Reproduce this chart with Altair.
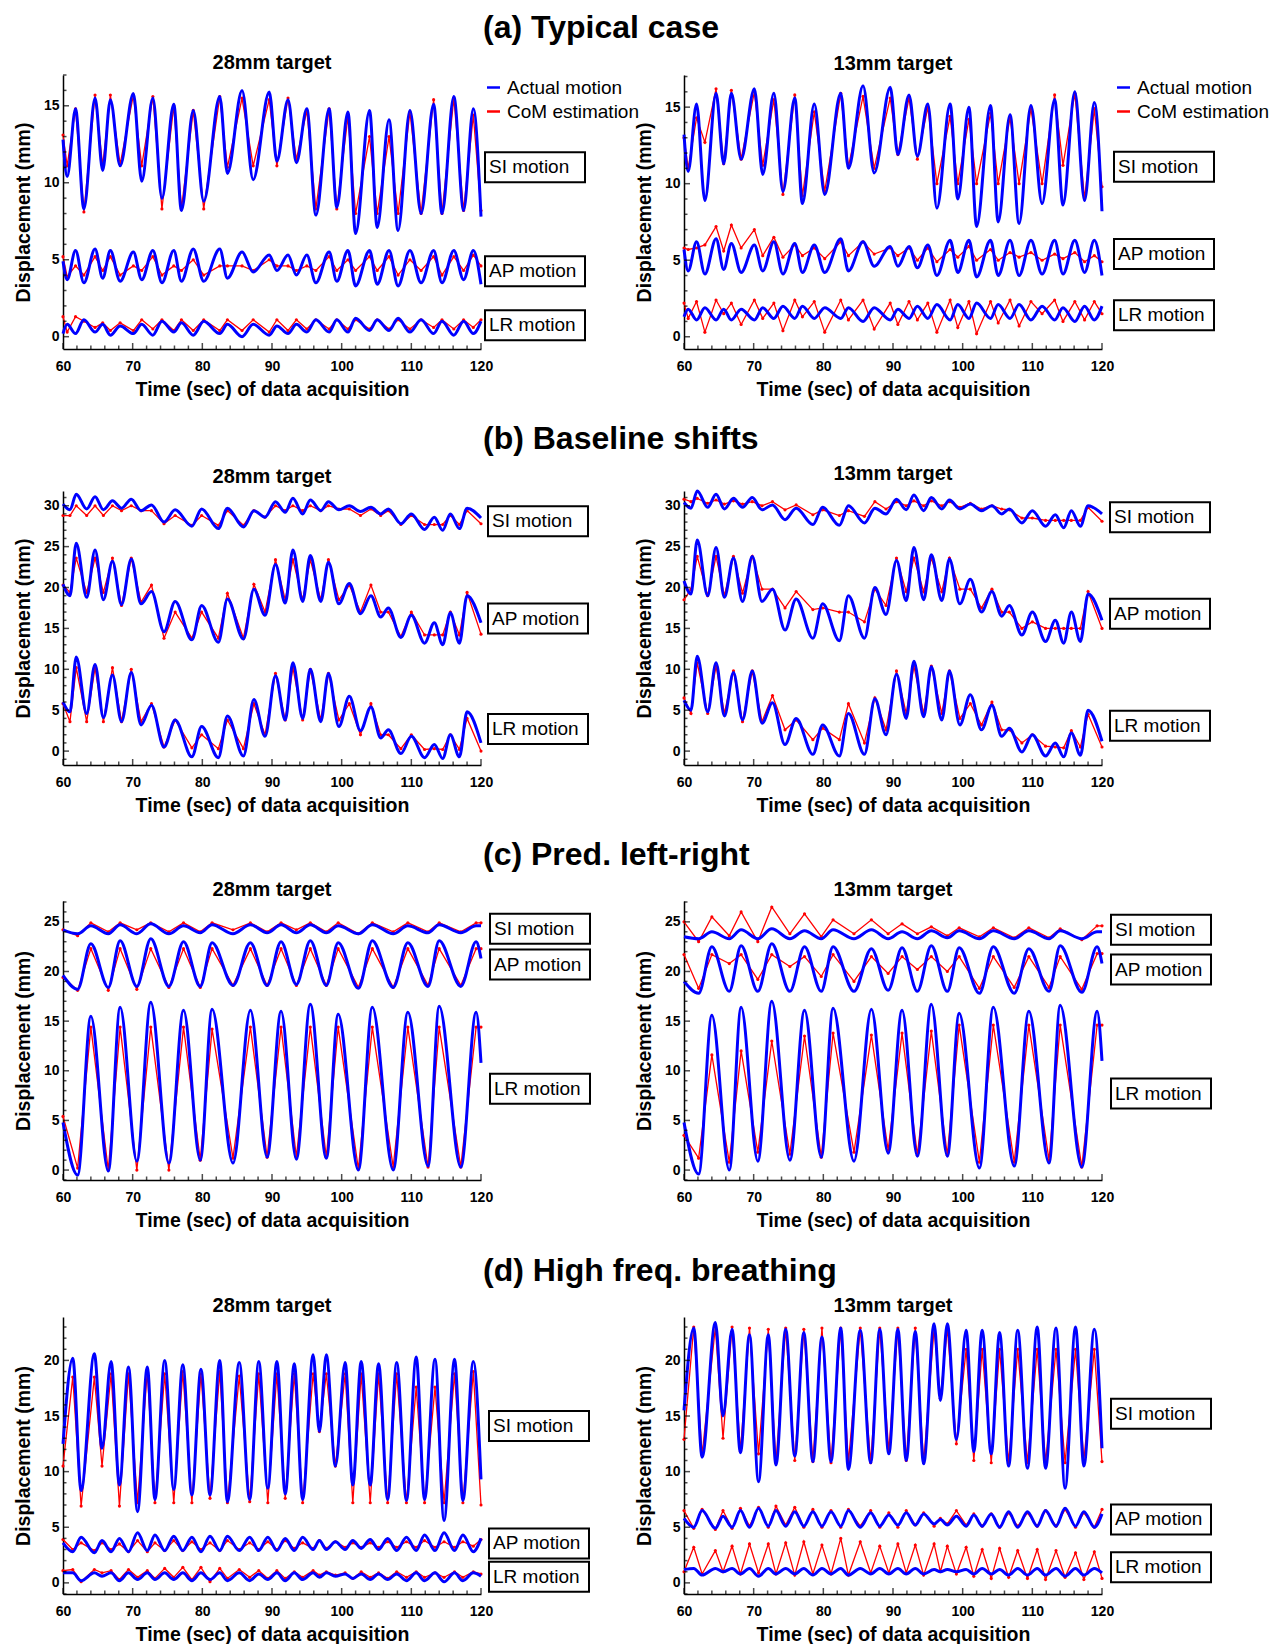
import math
import altair as alt
import pandas as pd

FONT = "Liberation Sans"
BLUE = "#0000ff"
RED = "#ff0000"

# ---------------- row (a) Typical case ----------------
T_a = [60, 60.6, 61.8, 63.0, 64.6, 65.7, 66.8, 68.2, 70.1, 71.3, 72.9, 74.2, 75.9, 77.0, 78.7, 80.2, 82.5, 83.6, 85.7, 87.3,
       89.6, 90.7, 92.3, 93.5, 95.0, 96.3, 98.2, 99.3, 100.9, 102.0, 104.0, 105.1, 106.8, 108.1, 109.8, 111.4, 113.2, 114.4,
       116.1, 117.5, 118.9, 120]
a28_si = [12.8, 10.4, 14.8, 8.3, 15.5, 10.8, 15.4, 11.1, 15.8, 10.1, 15.5, 9.0, 15.1, 8.2, 14.7, 8.8, 15.6, 10.6, 16.0, 10.2,
          15.9, 11.4, 15.4, 11.3, 14.8, 7.9, 14.8, 8.4, 14.6, 6.7, 14.7, 7.1, 14.1, 6.9, 14.7, 8.0, 15.1, 8.0, 15.6, 8.2, 14.8, 7.8]
a28_si_est = [13.1, 11.1, 14.8, 8.1, 15.7, 11.1, 15.7, 11.2, 15.7, 11.1, 15.6, 8.3, 15.0, 8.3, 14.7, 8.3, 15.6, 11.0, 15.5, 11.1,
              15.4, 11.1, 15.5, 11.5, 14.7, 8.3, 14.8, 8.3, 14.3, 8.0, 13.0, 8.0, 13.0, 8.0, 14.6, 8.0, 15.4, 8.0, 15.5, 8.2, 14.4, 8.2]
a28_ap = [4.9, 3.7, 5.6, 3.5, 5.7, 3.8, 5.6, 3.6, 5.5, 3.7, 5.6, 3.5, 5.6, 3.6, 5.7, 3.6, 5.7, 3.8, 5.5, 4.2,
          5.3, 4.3, 5.3, 4.0, 5.3, 3.5, 5.5, 3.6, 5.6, 3.3, 5.6, 3.4, 5.6, 3.3, 5.6, 3.5, 5.6, 3.5, 5.6, 3.7, 5.6, 3.4]
a28_ap_est = [5.2, 3.9, 4.6, 4.0, 5.2, 4.3, 5.2, 4.0, 4.6, 4.3, 5.2, 4.0, 4.6, 4.3, 5.0, 4.0, 4.6, 4.6, 4.6, 4.3,
              5.0, 4.6, 4.6, 4.3, 4.6, 4.3, 5.2, 4.3, 5.0, 4.3, 5.2, 4.3, 5.2, 4.0, 5.0, 4.3, 5.2, 4.0, 5.2, 4.3, 5.3, 4.6]
a28_lr = [0.2, 0.8, 0.2, 1.1, 0.3, 0.8, 0.1, 0.7, 0.2, 0.8, 0.1, 1.0, 0.3, 0.9, 0.1, 1.0, 0.2, 0.8, 0.0, 0.8,
          0.1, 0.7, 0.2, 0.8, 0.3, 1.1, 0.3, 1.1, 0.3, 1.2, 0.4, 1.1, 0.4, 1.2, 0.3, 1.1, 0.2, 1.0, 0.1, 1.0, 0.2, 1.0]
a28_lr_est = [1.3, 0.3, 1.3, 1.0, 0.6, 0.9, 0.4, 0.9, 0.4, 1.1, 0.5, 1.1, 0.4, 1.1, 0.4, 1.1, 0.4, 1.1, 0.4, 1.1,
              0.3, 1.1, 0.4, 1.1, 0.5, 1.1, 0.5, 1.1, 0.5, 1.1, 0.5, 1.1, 0.5, 1.1, 0.5, 1.1, 0.6, 1.1, 0.5, 1.1, 0.6, 1.1]
a13_si = [13.2, 10.8, 15.2, 8.9, 15.9, 11.3, 15.9, 11.6, 16.2, 10.6, 15.9, 9.5, 15.6, 8.7, 15.2, 9.3, 15.9, 11.0, 16.4, 10.7,
          16.3, 11.9, 15.8, 11.8, 15.2, 8.4, 15.2, 9.0, 15.0, 7.2, 15.1, 7.5, 14.5, 7.4, 15.1, 8.7, 15.5, 8.6, 16.0, 8.9, 15.3, 8.2]
a13_si_est = [13.0, 11.0, 14.3, 12.7, 16.2, 11.3, 16.1, 11.6, 16.0, 11.2, 15.5, 9.3, 15.8, 9.2, 14.7, 9.5, 15.9, 11.1, 15.7, 11.0,
              15.6, 11.9, 15.6, 11.6, 15.0, 10.0, 14.4, 10.0, 14.2, 10.0, 14.6, 10.0, 14.3, 10.0, 14.9, 10.0, 15.8, 11.2, 15.9, 9.0, 14.9, 9.8]
a13_ap = [5.7, 4.3, 6.2, 4.1, 6.4, 4.4, 6.1, 4.2, 6.0, 4.3, 6.2, 4.1, 6.1, 4.2, 6.0, 4.2, 6.4, 4.3, 6.2, 4.6,
          5.9, 4.6, 5.9, 4.5, 6.0, 4.0, 6.3, 4.2, 6.3, 3.9, 6.3, 4.0, 6.3, 4.0, 6.3, 4.1, 6.3, 4.1, 6.3, 4.2, 6.3, 4.0]
a13_ap_est = [5.8, 5.7, 5.8, 6.0, 7.2, 5.6, 7.3, 5.8, 7.0, 5.3, 6.5, 5.2, 6.0, 5.3, 5.8, 5.1, 6.2, 5.3, 6.2, 5.4,
              5.8, 5.3, 5.8, 5.0, 5.8, 4.9, 5.7, 5.2, 5.9, 5.0, 5.7, 5.0, 5.5, 5.2, 5.5, 5.0, 5.4, 5.1, 5.5, 4.9, 5.3, 4.9]
a13_lr = [1.3, 1.8, 1.1, 1.9, 1.1, 1.8, 1.1, 1.8, 1.1, 1.9, 1.2, 2.0, 1.2, 2.0, 1.2, 1.9, 1.2, 1.9, 1.0, 1.9,
          1.1, 1.8, 1.2, 2.0, 1.2, 2.1, 1.1, 2.1, 1.2, 2.2, 1.2, 2.1, 1.2, 2.1, 1.1, 2.0, 1.1, 1.9, 1.0, 2.0, 1.1, 2.0]
a13_lr_est = [2.2, 1.2, 2.3, 0.3, 2.4, 1.5, 2.2, 0.8, 2.4, 1.2, 2.2, 0.4, 2.4, 1.3, 2.3, 0.3, 2.4, 1.1, 2.4, 0.5,
              2.2, 0.8, 2.3, 1.1, 2.2, 0.3, 2.4, 0.6, 2.3, 0.2, 2.3, 0.9, 2.4, 0.7, 2.3, 1.5, 2.4, 1.0, 2.3, 1.1, 2.3, 1.5]

# ---------------- row (b) Baseline shifts ----------------
T_b = [60, 61.0, 61.9, 63.4, 64.6, 65.8, 67.1, 68.4, 69.8, 71.2, 72.7, 74.5, 76.1, 78.5, 79.9, 82.3, 83.6, 85.9, 87.4, 89.0,
       90.5, 91.9, 93.0, 94.4, 95.5, 97.0, 98.1, 99.6, 101.1, 102.7, 104.2, 105.6, 106.7, 108.5, 110.0, 111.9, 113.3, 114.5,
       115.6, 116.9, 118.0, 120]
b28_si = [30.2, 29.5, 31.4, 29.6, 31.1, 29.5, 30.6, 29.7, 30.8, 29.4, 30.1, 28.0, 29.5, 27.5, 29.6, 27.2, 29.7, 27.4, 29.4, 28.6,
          30.5, 29.2, 30.9, 29.0, 30.7, 29.4, 30.5, 29.5, 30.0, 29.3, 29.8, 29.0, 29.6, 27.8, 29.0, 27.1, 28.6, 27.0, 29.0, 27.2, 29.7, 28.5]
b28_si_est = [28.8, 28.8, 30.0, 28.8, 30.0, 28.8, 30.0, 29.4, 30.0, 29.4, 29.4, 27.8, 28.8, 27.6, 28.8, 27.6, 29.4, 27.6, 29.4, 28.6,
              30.0, 29.4, 30.0, 29.4, 30.0, 29.4, 30.0, 29.6, 29.6, 28.8, 29.6, 28.8, 29.4, 27.7, 28.8, 27.7, 27.7, 27.7, 28.8, 27.7, 29.4, 27.8]
b28_ap = [20.4, 19.0, 25.4, 18.8, 24.6, 18.5, 23.2, 17.9, 23.5, 18.0, 19.5, 14.6, 18.3, 13.6, 17.8, 13.3, 18.6, 13.7, 19.8, 16.6,
          22.8, 18.1, 24.6, 18.3, 23.9, 18.3, 23.1, 18.0, 20.5, 16.8, 19.0, 16.4, 17.5, 13.9, 16.6, 13.2, 15.7, 13.0, 16.9, 13.2, 19.0, 15.7]
b28_ap_est = [20.3, 19.4, 23.6, 19.4, 23.6, 19.4, 23.6, 17.8, 23.6, 18.2, 20.3, 13.8, 17.0, 13.8, 17.0, 13.8, 19.3, 13.8, 20.4, 17.0,
              23.4, 18.5, 23.4, 18.5, 23.4, 18.5, 23.4, 18.5, 20.3, 17.0, 20.3, 17.0, 17.0, 14.0, 17.0, 14.2, 14.2, 14.2, 17.0, 14.2, 19.4, 14.3]
b28_lr = [6.0, 4.8, 11.5, 4.6, 10.6, 4.1, 9.3, 3.6, 9.6, 3.2, 5.6, 0.5, 3.8, -0.7, 3.0, -0.8, 4.3, -0.6, 6.3, 1.8,
          9.2, 3.8, 10.8, 4.0, 10.0, 3.6, 9.5, 3.0, 6.7, 2.5, 5.4, 1.6, 2.6, -0.3, 1.8, -0.8, 0.8, -0.9, 2.0, -0.7, 4.8, 1.0]
b28_lr_est = [5.8, 3.6, 10.2, 3.6, 10.2, 3.6, 10.2, 3.6, 10.0, 3.6, 5.8, 0.5, 3.8, 0.4, 2.0, 0.3, 3.8, 0.3, 5.8, 2.0,
              9.5, 3.8, 10.2, 3.8, 10.0, 3.8, 9.5, 3.8, 5.8, 2.0, 5.8, 2.0, 2.0, 0.3, 2.0, 0.2, 0.3, 0.2, 2.0, 0.2, 4.0, 0.0]
b13_si = [30.4, 29.7, 31.8, 29.8, 31.4, 29.6, 30.9, 29.8, 31.0, 29.5, 30.1, 28.3, 29.7, 27.7, 29.8, 27.6, 30.0, 27.9, 29.7, 29.0,
          30.8, 29.5, 31.3, 29.4, 31.0, 29.6, 30.7, 29.6, 30.2, 29.4, 30.0, 29.0, 29.6, 27.9, 29.4, 27.5, 28.9, 27.3, 29.4, 27.5, 30.0, 29.0]
b13_si_est = [30.8, 30.5, 30.9, 30.3, 30.7, 30.2, 30.6, 30.2, 30.5, 30.0, 30.5, 29.5, 30.1, 28.9, 29.5, 28.8, 29.4, 28.7, 30.5, 29.6,
              30.5, 30.0, 30.6, 30.0, 30.6, 30.0, 30.5, 29.8, 30.3, 29.6, 30.0, 29.6, 29.5, 28.5, 28.5, 28.2, 28.2, 28.2, 28.2, 28.2, 29.8, 28.1]
b13_ap = [20.8, 19.2, 25.8, 19.0, 24.9, 18.8, 23.6, 18.3, 23.8, 18.3, 19.8, 14.8, 18.6, 13.8, 18.0, 13.5, 19.0, 13.8, 20.0, 16.7,
          23.3, 18.4, 24.9, 18.5, 24.0, 18.4, 23.5, 18.0, 21.0, 17.0, 19.5, 16.5, 17.8, 14.2, 17.0, 13.4, 16.0, 13.2, 17.0, 13.4, 19.2, 16.0]
b13_ap_est = [18.5, 19.8, 23.8, 19.0, 23.8, 19.0, 23.8, 19.3, 23.8, 19.8, 19.8, 17.5, 19.5, 17.3, 17.5, 17.0, 17.0, 15.8, 19.8, 17.8,
              23.6, 19.5, 23.6, 19.5, 23.6, 19.5, 23.6, 19.8, 19.8, 17.5, 19.8, 17.0, 17.0, 15.0, 15.8, 15.0, 15.0, 15.0, 15.0, 15.0, 19.5, 15.0]
b13_lr = [6.2, 5.0, 11.6, 4.8, 10.8, 4.3, 9.6, 3.8, 9.8, 3.4, 5.9, 0.8, 4.0, -0.4, 3.2, -0.6, 4.6, -0.4, 6.4, 2.0,
          9.4, 4.0, 11.0, 4.2, 10.3, 3.8, 9.8, 3.2, 6.9, 2.6, 5.6, 1.8, 2.8, -0.1, 2.0, -0.6, 1.0, -0.7, 2.2, -0.5, 5.0, 1.2]
b13_lr_est = [6.5, 4.6, 10.8, 4.6, 10.4, 4.6, 9.8, 3.6, 9.8, 3.6, 6.8, 2.6, 3.8, 1.4, 2.8, 1.4, 5.8, 1.0, 6.5, 2.6,
              9.8, 4.6, 10.4, 4.6, 10.4, 4.6, 9.8, 4.0, 5.8, 3.2, 6.0, 2.6, 2.6, 1.0, 2.0, 0.6, 0.5, 0.4, 2.5, 0.5, 4.5, 0.5]

# ---------------- row (c) Pred. left-right ----------------
T_c = [60, 62.1, 64.0, 66.5, 68.2, 70.6, 72.6, 75.2, 77.3, 79.7, 81.4, 84.4, 86.9, 89.3, 91.3, 93.5, 95.5, 97.8, 99.5,
       102.4, 104.4, 107.4, 109.5, 112.4, 114.0, 117.1, 119.3, 120]
c28_si = [24.2, 23.8, 24.6, 23.8, 24.7, 23.8, 24.8, 23.8, 24.6, 23.9, 24.7, 23.8, 24.7, 23.9, 24.7, 23.9, 24.7, 23.9, 24.6, 23.8,
          24.7, 23.8, 24.6, 23.9, 24.7, 23.9, 24.6, 24.6]
c28_si_est = [24.2, 23.6, 24.9, 24.0, 24.9, 24.2, 24.9, 24.0, 24.9, 24.0, 24.9, 24.2, 24.9, 24.0, 24.9, 24.2, 24.9, 24.0, 24.9, 23.8,
              24.9, 24.0, 24.9, 24.0, 24.9, 24.0, 24.9, 24.9]
c28_ap = [19.6, 18.2, 22.8, 18.4, 23.1, 18.5, 23.3, 18.5, 23.0, 18.5, 22.9, 18.6, 22.9, 18.6, 23.0, 18.7, 23.1, 18.6, 22.9, 18.3,
          23.1, 18.4, 22.9, 18.5, 23.1, 18.5, 23.0, 21.3]
c28_ap_est = [19.4, 18.1, 22.3, 18.1, 22.3, 18.2, 22.3, 18.4, 22.3, 18.4, 22.3, 18.6, 22.3, 18.6, 22.3, 18.6, 22.3, 18.6, 22.3, 18.4,
              22.3, 18.4, 22.3, 18.6, 22.3, 18.6, 22.3, 22.3]
c28_lr = [4.8, -0.5, 15.5, -0.1, 16.4, 0.9, 16.9, 0.7, 16.1, 1.0, 16.2, 0.7, 16.1, 1.3, 16.0, 1.1, 16.7, 1.2, 15.7, 0.0,
          16.4, 0.0, 15.9, 0.4, 16.5, 0.3, 15.9, 10.8]
c28_lr_est = [5.4, 0.2, 14.4, 0.0, 14.4, 0.0, 14.4, 0.0, 14.4, 1.0, 14.2, 1.2, 14.4, 1.3, 14.4, 1.3, 14.4, 1.3, 14.4, 0.1,
              14.4, 0.3, 14.4, 0.3, 14.4, 0.3, 14.4, 14.4]
c13_si = [23.5, 23.3, 24.0, 23.3, 24.2, 23.3, 24.3, 23.3, 24.1, 23.3, 24.2, 23.3, 24.2, 23.3, 24.0, 23.3, 24.1, 23.4, 24.1, 23.3,
          24.1, 23.3, 24.1, 23.3, 24.1, 23.3, 24.0, 24.0]
c13_si_est = [25.0, 23.0, 25.5, 23.6, 26.0, 23.0, 26.5, 23.8, 25.8, 23.5, 25.2, 23.8, 25.2, 23.8, 24.8, 23.8, 24.5, 23.6, 24.4, 23.5,
              24.4, 23.4, 24.4, 23.4, 24.3, 23.2, 24.6, 24.6]
c13_ap = [19.0, 17.8, 22.5, 18.0, 22.6, 18.0, 22.8, 18.0, 22.5, 18.0, 22.5, 18.0, 22.3, 18.1, 22.4, 18.0, 22.6, 18.0, 22.4, 17.8,
          22.5, 17.8, 22.3, 18.0, 22.6, 17.9, 22.5, 20.8]
c13_ap_est = [21.7, 18.3, 21.7, 20.8, 21.7, 19.2, 21.7, 20.5, 21.5, 19.5, 21.7, 19.0, 21.5, 19.8, 21.5, 20.2, 21.5, 20.0, 21.5, 18.3,
              21.5, 18.4, 21.5, 18.4, 21.5, 18.2, 21.8, 21.8]
c13_lr = [4.8, -0.4, 15.6, 0.0, 16.4, 0.9, 17.0, 1.0, 16.1, 1.3, 16.3, 0.9, 16.2, 1.7, 16.1, 1.4, 16.7, 1.4, 15.8, 0.2,
          16.4, 0.4, 16.0, 0.7, 16.6, 0.3, 16.0, 11.0]
c13_lr_est = [3.5, 1.2, 11.6, 0.8, 12.0, 1.8, 13.0, 1.6, 13.5, 1.3, 13.8, 1.8, 13.6, 2.0, 13.8, 1.5, 14.0, 1.5, 14.6, 0.8,
              14.6, 0.8, 14.6, 1.0, 14.6, 0.3, 14.6, 14.6]

# ---------------- row (d) High freq. breathing ----------------
T_d = [60, 61.4, 62.6, 64.5, 65.6, 66.9, 68.1, 69.4, 70.7, 72.1, 73.2, 74.6, 75.9, 77.2, 78.5, 79.8, 81.1, 82.5, 83.6, 85.3,
       86.8, 88.1, 89.4, 90.7, 91.9, 93.2, 94.4, 95.9, 96.8, 97.8, 99.1, 100.5, 101.6, 102.8, 104.1, 105.3, 106.6, 107.9,
       109.3, 110.7, 111.9, 113.4, 114.7, 116.2, 117.4, 118.9, 120]
d28_si = [12.5, 20.2, 8.3, 20.6, 12.1, 19.9, 8.8, 19.4, 6.4, 19.4, 7.5, 20.0, 8.4, 19.6, 7.9, 19.2, 7.9, 20.0, 7.3, 19.8,
          7.5, 19.9, 8.5, 19.9, 8.0, 19.7, 7.5, 20.5, 13.6, 20.5, 10.5, 19.8, 8.8, 19.9, 8.8, 19.7, 7.5, 19.8, 7.4, 20.3,
          7.5, 20.1, 5.6, 20.1, 7.4, 19.9, 9.3]
d28_si_est = [10.5, 18.5, 6.9, 18.5, 10.5, 18.8, 6.9, 18.8, 7.2, 19.0, 7.2, 18.8, 7.2, 19.0, 7.2, 18.8, 7.6, 19.0, 7.2, 18.6,
              7.3, 18.8, 7.2, 18.8, 7.6, 18.8, 7.2, 18.8, 13.6, 18.8, 10.5, 18.8, 7.2, 18.8, 7.2, 18.8, 7.2, 18.8, 7.2, 17.6,
              7.2, 17.6, 7.2, 18.8, 7.2, 19.0, 7.0]
d28_ap = [3.6, 2.8, 4.1, 2.7, 3.8, 2.8, 4.0, 2.8, 4.5, 2.9, 4.3, 2.9, 4.2, 2.9, 4.1, 2.8, 4.2, 2.9, 4.2, 2.9,
          4.1, 2.9, 4.1, 2.9, 4.0, 2.9, 4.1, 3.0, 3.8, 3.0, 3.7, 3.0, 3.8, 3.1, 3.9, 3.0, 4.0, 2.9, 4.1, 2.9,
          4.3, 2.9, 4.5, 2.9, 4.3, 2.8, 4.0]
d28_ap_est = [3.9, 3.0, 3.6, 2.9, 3.6, 3.0, 3.5, 2.8, 3.8, 2.8, 3.6, 2.9, 3.8, 2.9, 3.7, 3.0, 3.6, 2.9, 3.8, 3.0,
              3.6, 3.0, 3.7, 3.0, 3.8, 3.1, 3.6, 3.1, 3.8, 3.1, 3.7, 3.2, 3.6, 3.2, 3.6, 3.2, 3.7, 3.2, 3.7, 3.2,
              3.8, 3.2, 3.7, 3.2, 3.7, 3.3, 3.9]
d28_lr = [0.9, 0.9, 0.2, 0.9, 0.6, 0.9, 0.2, 0.9, 0.3, 0.9, 0.3, 0.9, 0.3, 0.9, 0.2, 0.9, 0.3, 0.9, 0.2, 0.9,
          0.2, 0.8, 0.3, 0.9, 0.2, 0.9, 0.3, 0.9, 0.5, 0.9, 0.6, 0.8, 0.4, 0.8, 0.3, 0.8, 0.3, 0.8, 0.2, 0.9,
          0.2, 0.9, 0.1, 0.9, 0.2, 0.9, 0.6]
d28_lr_est = [1.1, 1.2, 0.1, 1.2, 0.9, 1.1, 0.3, 1.2, 0.5, 1.1, 0.4, 1.3, 0.5, 1.4, 0.3, 1.4, 0.1, 1.3, 0.4, 1.2,
              0.5, 1.1, 0.4, 1.1, 0.4, 1.0, 0.5, 1.1, 0.7, 1.0, 0.7, 0.9, 0.4, 1.0, 0.5, 0.9, 0.4, 1.0, 0.5, 1.0,
              0.5, 0.9, 0.5, 1.0, 0.5, 1.0, 0.8]
d13_si = [15.5, 22.9, 11.3, 23.4, 15.0, 22.8, 11.7, 22.3, 9.1, 22.3, 10.6, 22.8, 11.4, 22.5, 10.9, 22.1, 10.9, 22.9, 10.2, 22.7,
          10.8, 22.8, 11.6, 22.8, 11.0, 22.6, 10.7, 23.3, 16.4, 23.3, 12.9, 22.7, 11.8, 22.7, 11.6, 22.5, 10.5, 22.7, 10.3, 23.0,
          10.3, 22.9, 8.5, 23.0, 10.5, 22.8, 12.1]
d13_si_est = [12.9, 23.0, 11.5, 23.0, 13.0, 23.0, 11.8, 22.9, 11.6, 22.8, 10.8, 22.9, 11.0, 22.8, 10.9, 22.9, 10.8, 22.9, 10.8, 22.9,
              10.8, 22.9, 11.8, 22.9, 11.0, 22.9, 10.8, 22.9, 16.6, 22.9, 12.5, 21.0, 11.0, 21.0, 10.8, 21.0, 10.8, 21.0, 10.8, 21.0,
              10.8, 21.0, 10.8, 21.0, 11.0, 21.0, 10.9]
d13_ap = [5.8, 5.0, 6.5, 4.9, 6.0, 5.0, 6.5, 5.0, 6.7, 5.1, 6.5, 5.1, 6.4, 5.1, 6.4, 5.1, 6.4, 5.1, 6.5, 5.0,
          6.3, 5.1, 6.1, 5.2, 6.3, 5.2, 6.2, 5.3, 5.7, 5.2, 6.0, 5.1, 6.1, 5.1, 6.2, 5.0, 6.4, 5.0, 6.4, 5.1,
          6.5, 5.1, 6.7, 5.1, 6.4, 5.0, 6.2]
d13_ap_est = [6.5, 4.9, 6.6, 4.8, 6.5, 4.9, 6.7, 5.1, 6.8, 5.0, 6.9, 5.2, 6.8, 5.0, 6.6, 5.0, 6.5, 5.0, 6.6, 5.1,
              6.5, 5.0, 6.3, 5.0, 6.5, 5.2, 6.3, 5.1, 5.8, 5.3, 6.5, 5.2, 6.2, 5.1, 6.2, 5.0, 6.3, 5.1, 6.3, 5.1,
              6.5, 5.1, 6.6, 5.0, 6.3, 5.0, 6.6]
d13_lr = [1.2, 1.3, 0.7, 1.3, 1.0, 1.3, 0.8, 1.3, 0.6, 1.3, 0.8, 1.3, 0.8, 1.3, 0.7, 1.3, 0.8, 1.3, 0.7, 1.3,
          0.8, 1.3, 0.8, 1.3, 0.8, 1.3, 0.8, 1.2, 1.0, 1.2, 1.0, 1.2, 0.8, 1.3, 0.8, 1.2, 0.7, 1.3, 0.7, 1.3,
          0.7, 1.3, 0.6, 1.3, 0.7, 1.3, 0.9]
d13_lr_est = [1.0, 3.2, 0.8, 2.9, 1.0, 3.3, 0.8, 3.5, 0.9, 3.5, 0.8, 3.6, 0.7, 3.7, 0.8, 3.4, 0.8, 4.0, 0.7, 3.7,
              0.9, 3.3, 0.9, 3.5, 0.9, 3.4, 0.7, 3.5, 1.0, 3.3, 0.8, 3.2, 0.6, 3.0, 0.4, 3.1, 0.5, 2.9, 0.4, 3.0,
              0.3, 2.9, 0.5, 2.7, 0.3, 2.8, 0.4]

X_TICKS = [60, 70, 80, 90, 100, 110, 120]
X_MINOR = [v for v in range(60, 121, 2) if v % 10]
MOTIONS = ["SI motion", "AP motion", "LR motion"]
KINDS = ["Actual motion", "CoM estimation"]

W = 418
BOX = "M-1,-0.3H1V0.3H-1Z"
MAJ, MIN = 6, 3.5


def panel(T, actual, est, title, dom, yticks, h, lab_y, box_dx, legend_dx=None):
    recs = []
    for name, a_vals, e_vals in zip(MOTIONS, actual, est):
        for t, v in zip(T, a_vals):
            recs.append({"t": t, "v": v, "s": name, "kind": KINDS[0]})
        for t, v in zip(T, e_vals):
            recs.append({"t": t, "v": v, "s": name, "kind": KINDS[1]})
    df = pd.DataFrame(recs)
    labs = pd.DataFrame({"v": lab_y, "txt": MOTIONS})
    y_minor = [v for v in range(math.ceil(dom[0]), math.floor(dom[1]) + 1) if v % 5]

    xs = alt.Scale(domain=[60, 120], nice=False)
    ys = alt.Scale(domain=dom, nice=False, zero=False)
    x = alt.X("t:Q", scale=xs,
              axis=alt.Axis(values=X_TICKS, title="Time (sec) of data acquisition", format="d"))
    y = alt.Y("v:Q", scale=ys,
              axis=alt.Axis(values=yticks, title="Displacement  (mm)", format="d"))
    if legend_dx is not None:
        leg = alt.Legend(orient="none", legendX=W + legend_dx, legendY=3, title=None,
                         symbolType="stroke", symbolSize=170, symbolStrokeWidth=2.5,
                         labelFont=FONT, labelFontSize=19, labelColor="black", rowPadding=4)
    else:
        leg = None
    color = alt.Color("kind:N", scale=alt.Scale(domain=KINDS, range=[BLUE, RED]), legend=leg)

    base = alt.Chart(df).encode(x=x, y=y, color=color, detail="s:N")
    red = base.transform_filter(alt.datum.kind == KINDS[1]).mark_line(
        interpolate="linear", strokeWidth=1.3,
        point=alt.OverlayMarkDef(filled=True, size=10, color=RED))
    blue = base.transform_filter(alt.datum.kind == KINDS[0]).mark_line(
        interpolate="monotone", strokeWidth=3)

    # inward axis ticks (major + minor)
    xt = pd.DataFrame({"t": X_TICKS + X_MINOR, "L": [MAJ] * len(X_TICKS) + [MIN] * len(X_MINOR)})
    yt = pd.DataFrame({"v": yticks + y_minor, "L": [MAJ] * len(yticks) + [MIN] * len(y_minor)})
    xtick_layers = [
        alt.Chart(xt).transform_filter(alt.datum.L == L).mark_tick(
            orient="vertical", size=L, thickness=1.5, color="black").encode(
            x=alt.X("t:Q", scale=xs), y=alt.value(h - L / 2))
        for L in (MAJ, MIN)
    ]
    ytick_layers = [
        alt.Chart(yt).transform_filter(alt.datum.L == L).mark_tick(
            orient="horizontal", size=L, thickness=1.5, color="black").encode(
            y=alt.Y("v:Q", scale=ys), x=alt.value(L / 2))
        for L in (MAJ, MIN)
    ]

    boxes = alt.Chart(labs).mark_point(shape=BOX, size=10000, filled=False, stroke="black",
                                       strokeWidth=2, opacity=1).encode(
        x=alt.value(W + box_dx + 50), y=alt.Y("v:Q", scale=ys))
    texts = alt.Chart(labs).mark_text(align="left", baseline="middle", font=FONT, fontSize=19,
                                      color="black").encode(
        x=alt.value(W + box_dx + 4), y=alt.Y("v:Q", scale=ys), text="txt:N")
    return alt.layer(red, blue, *xtick_layers, *ytick_layers, boxes, texts).properties(
        width=W, height=h,
        title=alt.TitleParams(title, font=FONT, fontSize=20, fontWeight="bold", color="black", offset=1))


def row(left, right, title):
    return alt.hconcat(left, right, spacing=203, bounds="flush").properties(
        title=alt.TitleParams(title, font=FONT, fontSize=32, fontWeight="bold", color="black",
                              anchor="start", frame="group", dx=420, offset=8)
    ).resolve_legend(color="independent")


row_a = row(
    panel(T_a, [a28_si, a28_ap, a28_lr], [a28_si_est, a28_ap_est, a28_lr_est], "28mm target",
          [-0.8, 17.0], [0, 5, 10, 15], 274, [11.0, 4.25, 0.75], 4, legend_dx=3),
    panel(T_a, [a13_si, a13_ap, a13_lr], [a13_si_est, a13_ap_est, a13_lr_est], "13mm target",
          [-0.8, 17.1], [0, 5, 10, 15], 274, [11.1, 5.4, 1.4], 12, legend_dx=12),
    "(a) Typical case")
row_b = row(
    panel(T_b, [b28_si, b28_ap, b28_lr], [b28_si_est, b28_ap_est, b28_lr_est], "28mm target",
          [-1.7, 31.8], [0, 5, 10, 15, 20, 25, 30], 274, [28.1, 16.2, 2.7], 7),
    panel(T_b, [b13_si, b13_ap, b13_lr], [b13_si_est, b13_ap_est, b13_lr_est], "13mm target",
          [-1.7, 31.8], [0, 5, 10, 15, 20, 25, 30], 274, [28.6, 16.8, 3.1], 8),
    "(b) Baseline shifts")
row_c = row(
    panel(T_c, [c28_si, c28_ap, c28_lr], [c28_si_est, c28_ap_est, c28_lr_est], "28mm target",
          [-1.0, 27.1], [0, 5, 10, 15, 20, 25], 279, [24.3, 20.7, 8.2], 9),
    panel(T_c, [c13_si, c13_ap, c13_lr], [c13_si_est, c13_ap_est, c13_lr_est], "13mm target",
          [-1.0, 27.1], [0, 5, 10, 15, 20, 25], 279, [24.2, 20.2, 7.7], 9),
    "(c) Pred. left-right")
row_d = row(
    panel(T_d, [d28_si, d28_ap, d28_lr], [d28_si_est, d28_ap_est, d28_lr_est], "28mm target",
          [-1.0, 23.9], [0, 5, 10, 15, 20], 277, [14.1, 3.55, 0.56], 8),
    panel(T_d, [d13_si, d13_ap, d13_lr], [d13_si_est, d13_ap_est, d13_lr_est], "13mm target",
          [-1.0, 23.9], [0, 5, 10, 15, 20], 277, [15.2, 5.7, 1.4], 9),
    "(d) High freq. breathing")

chart = alt.vconcat(row_a, row_b, row_c, row_d, spacing=24).resolve_legend(
    color="independent"
).properties(
    padding={"left": 13, "top": 12, "right": 0, "bottom": 0}
).configure_axis(
    labelFont=FONT, labelFontWeight="bold", labelFontSize=14, labelColor="black",
    titleFont=FONT, titleFontWeight="bold", titleFontSize=19.5, titleColor="black",
    domainColor="black", domainWidth=1.5, ticks=False, tickSize=0, labelFlush=False,
    grid=False
).configure_axisY(titlePadding=10, labelPadding=4).configure_axisX(titlePadding=7, labelPadding=10
).configure_view(stroke=None)

chart.save("out.html", embed_options={"renderer": "svg", "actions": False})
